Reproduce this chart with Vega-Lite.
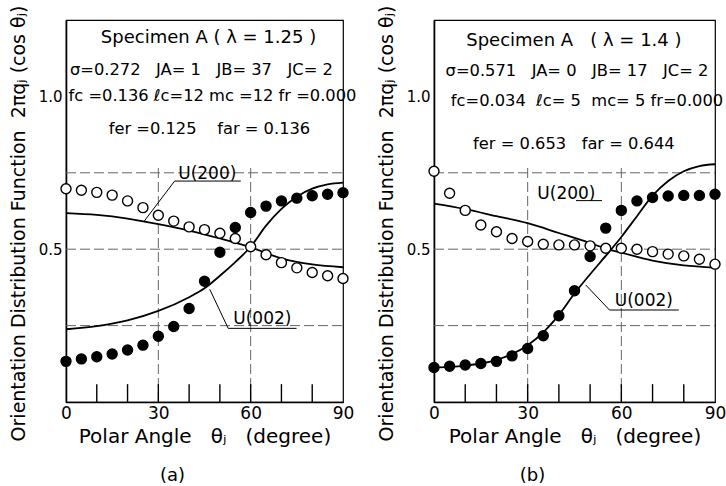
{
  "$schema": "https://vega.github.io/schema/vega-lite/v6.json",
  "background": "white",
  "padding": {"left": 8, "top": 4, "right": 0, "bottom": 0},
  "spacing": 18,
  "datasets": {
    "gridlines": [
      {"x": 0, "x2": 90, "y": 0.25, "y2": 0.25},
      {"x": 0, "x2": 90, "y": 0.5, "y2": 0.5},
      {"x": 0, "x2": 90, "y": 0.75, "y2": 0.75},
      {"x": 30, "x2": 30, "y": 0, "y2": 0.77},
      {"x": 60, "x2": 60, "y": 0, "y2": 0.77}
    ],
    "minor": [
      {"x": 10, "y": 0.029}, {"x": 20, "y": 0.029}, {"x": 30, "y": 0.029}, {"x": 40, "y": 0.029},
      {"x": 50, "y": 0.029}, {"x": 60, "y": 0.029}, {"x": 70, "y": 0.029}, {"x": 80, "y": 0.029}
    ],
    "a_leaders": [
      {"x": 35.3, "x2": 56.8, "y": 0.723, "y2": 0.723},
      {"x": 35.3, "x2": 25.2, "y": 0.723, "y2": 0.589},
      {"x": 52.7, "x2": 74.9, "y": 0.241, "y2": 0.241},
      {"x": 52.7, "x2": 46.7, "y": 0.241, "y2": 0.369}
    ],
    "b_leaders": [
      {"x": 45.5, "x2": 53.8, "y": 0.659, "y2": 0.659},
      {"x": 56.2, "x2": 78.4, "y": 0.301, "y2": 0.301},
      {"x": 56.2, "x2": 48.6, "y": 0.301, "y2": 0.383}
    ],
    "a_fit": [
      {"s": "U(200)", "x": 0, "y": 0.618}, {"s": "U(200)", "x": 10, "y": 0.612},
      {"s": "U(200)", "x": 20, "y": 0.6}, {"s": "U(200)", "x": 30, "y": 0.582},
      {"s": "U(200)", "x": 40, "y": 0.561}, {"s": "U(200)", "x": 50, "y": 0.535},
      {"s": "U(200)", "x": 60, "y": 0.506}, {"s": "U(200)", "x": 70, "y": 0.47},
      {"s": "U(200)", "x": 80, "y": 0.45}, {"s": "U(200)", "x": 90, "y": 0.441},
      {"s": "U(002)", "x": 0, "y": 0.238}, {"s": "U(002)", "x": 10, "y": 0.248},
      {"s": "U(002)", "x": 20, "y": 0.267}, {"s": "U(002)", "x": 30, "y": 0.298},
      {"s": "U(002)", "x": 40, "y": 0.343}, {"s": "U(002)", "x": 45, "y": 0.372},
      {"s": "U(002)", "x": 50, "y": 0.413}, {"s": "U(002)", "x": 55, "y": 0.458},
      {"s": "U(002)", "x": 60, "y": 0.508}, {"s": "U(002)", "x": 65, "y": 0.577},
      {"s": "U(002)", "x": 70, "y": 0.632}, {"s": "U(002)", "x": 75, "y": 0.672},
      {"s": "U(002)", "x": 80, "y": 0.698}, {"s": "U(002)", "x": 85, "y": 0.712},
      {"s": "U(002)", "x": 90, "y": 0.718}
    ],
    "b_fit": [
      {"s": "U(200)", "x": 0, "y": 0.649}, {"s": "U(200)", "x": 10, "y": 0.631},
      {"s": "U(200)", "x": 20, "y": 0.608}, {"s": "U(200)", "x": 30, "y": 0.585},
      {"s": "U(200)", "x": 40, "y": 0.553}, {"s": "U(200)", "x": 50, "y": 0.52},
      {"s": "U(200)", "x": 55, "y": 0.502}, {"s": "U(200)", "x": 60, "y": 0.489},
      {"s": "U(200)", "x": 70, "y": 0.463}, {"s": "U(200)", "x": 80, "y": 0.447},
      {"s": "U(200)", "x": 90, "y": 0.44},
      {"s": "U(002)", "x": 0, "y": 0.113}, {"s": "U(002)", "x": 5, "y": 0.115},
      {"s": "U(002)", "x": 10, "y": 0.119}, {"s": "U(002)", "x": 15, "y": 0.126},
      {"s": "U(002)", "x": 20, "y": 0.138}, {"s": "U(002)", "x": 25, "y": 0.157},
      {"s": "U(002)", "x": 30, "y": 0.186}, {"s": "U(002)", "x": 35, "y": 0.228},
      {"s": "U(002)", "x": 40, "y": 0.285}, {"s": "U(002)", "x": 45, "y": 0.355},
      {"s": "U(002)", "x": 50, "y": 0.418}, {"s": "U(002)", "x": 55, "y": 0.478},
      {"s": "U(002)", "x": 60, "y": 0.54}, {"s": "U(002)", "x": 65, "y": 0.608},
      {"s": "U(002)", "x": 70, "y": 0.675}, {"s": "U(002)", "x": 75, "y": 0.723},
      {"s": "U(002)", "x": 80, "y": 0.755}, {"s": "U(002)", "x": 85, "y": 0.772},
      {"s": "U(002)", "x": 90, "y": 0.778}
    ],
    "a_pts": [
      {"s": "U(200)", "x": 0, "y": 0.698}, {"s": "U(200)", "x": 5, "y": 0.693},
      {"s": "U(200)", "x": 10, "y": 0.686}, {"s": "U(200)", "x": 15, "y": 0.677},
      {"s": "U(200)", "x": 20, "y": 0.658}, {"s": "U(200)", "x": 25, "y": 0.636},
      {"s": "U(200)", "x": 30, "y": 0.611}, {"s": "U(200)", "x": 35, "y": 0.592},
      {"s": "U(200)", "x": 40, "y": 0.573}, {"s": "U(200)", "x": 45, "y": 0.564},
      {"s": "U(200)", "x": 50, "y": 0.552}, {"s": "U(200)", "x": 55, "y": 0.535},
      {"s": "U(200)", "x": 60, "y": 0.508}, {"s": "U(200)", "x": 65, "y": 0.482},
      {"s": "U(200)", "x": 70, "y": 0.456}, {"s": "U(200)", "x": 75, "y": 0.439},
      {"s": "U(200)", "x": 80, "y": 0.424}, {"s": "U(200)", "x": 85, "y": 0.413},
      {"s": "U(200)", "x": 90, "y": 0.404},
      {"s": "U(002)", "x": 0, "y": 0.133}, {"s": "U(002)", "x": 5, "y": 0.141},
      {"s": "U(002)", "x": 10, "y": 0.148}, {"s": "U(002)", "x": 15, "y": 0.157},
      {"s": "U(002)", "x": 20, "y": 0.17}, {"s": "U(002)", "x": 25, "y": 0.186},
      {"s": "U(002)", "x": 30, "y": 0.215}, {"s": "U(002)", "x": 35, "y": 0.247},
      {"s": "U(002)", "x": 40, "y": 0.306}, {"s": "U(002)", "x": 45, "y": 0.395},
      {"s": "U(002)", "x": 50, "y": 0.49}, {"s": "U(002)", "x": 55, "y": 0.571},
      {"s": "U(002)", "x": 60, "y": 0.62}, {"s": "U(002)", "x": 65, "y": 0.641},
      {"s": "U(002)", "x": 70, "y": 0.658}, {"s": "U(002)", "x": 75, "y": 0.667},
      {"s": "U(002)", "x": 80, "y": 0.675}, {"s": "U(002)", "x": 85, "y": 0.68},
      {"s": "U(002)", "x": 90, "y": 0.685}
    ],
    "b_pts": [
      {"s": "U(200)", "x": 0, "y": 0.755}, {"s": "U(200)", "x": 5, "y": 0.683},
      {"s": "U(200)", "x": 10, "y": 0.627}, {"s": "U(200)", "x": 15, "y": 0.579},
      {"s": "U(200)", "x": 20, "y": 0.557}, {"s": "U(200)", "x": 25, "y": 0.535},
      {"s": "U(200)", "x": 30, "y": 0.525}, {"s": "U(200)", "x": 35, "y": 0.516},
      {"s": "U(200)", "x": 40, "y": 0.514}, {"s": "U(200)", "x": 45, "y": 0.514},
      {"s": "U(200)", "x": 50, "y": 0.511}, {"s": "U(200)", "x": 55, "y": 0.503},
      {"s": "U(200)", "x": 60, "y": 0.503}, {"s": "U(200)", "x": 65, "y": 0.5},
      {"s": "U(200)", "x": 70, "y": 0.492}, {"s": "U(200)", "x": 75, "y": 0.484},
      {"s": "U(200)", "x": 80, "y": 0.478}, {"s": "U(200)", "x": 85, "y": 0.467},
      {"s": "U(200)", "x": 90, "y": 0.451},
      {"s": "U(002)", "x": 0, "y": 0.113}, {"s": "U(002)", "x": 5, "y": 0.117},
      {"s": "U(002)", "x": 10, "y": 0.121}, {"s": "U(002)", "x": 15, "y": 0.126},
      {"s": "U(002)", "x": 20, "y": 0.133}, {"s": "U(002)", "x": 25, "y": 0.151},
      {"s": "U(002)", "x": 30, "y": 0.175}, {"s": "U(002)", "x": 35, "y": 0.217},
      {"s": "U(002)", "x": 40, "y": 0.282}, {"s": "U(002)", "x": 45, "y": 0.364},
      {"s": "U(002)", "x": 50, "y": 0.476}, {"s": "U(002)", "x": 55, "y": 0.569},
      {"s": "U(002)", "x": 60, "y": 0.627}, {"s": "U(002)", "x": 65, "y": 0.658},
      {"s": "U(002)", "x": 70, "y": 0.669}, {"s": "U(002)", "x": 75, "y": 0.674},
      {"s": "U(002)", "x": 80, "y": 0.676}, {"s": "U(002)", "x": 85, "y": 0.676},
      {"s": "U(002)", "x": 90, "y": 0.68}
    ],
    "a_head": [
      {"x": 46.3, "y": 1.19, "t": "Specimen A ( λ = 1.25 )"}
    ],
    "a_params": [
      {"x": 44.0, "y": 1.088, "t": "σ=0.272\u00a0\u00a0 JA= 1\u00a0\u00a0 JB= 37\u00a0\u00a0 JC= 2"},
      {"x": 47.6, "y": 1.0, "t": "fc =0.136 ℓc=12 mc =12 fr =0.000"},
      {"x": 46.6, "y": 0.892, "t": "fer =0.125\u00a0\u00a0\u00a0 far = 0.136"}
    ],
    "a_labels": [
      {"x": 45.9, "y": 0.746, "t": "U(200)"},
      {"x": 63.8, "y": 0.271, "t": "U(002)"}
    ],
    "b_head": [
      {"x": 44.8, "y": 1.18, "t": "Specimen A\u00a0\u00a0 ( λ = 1.4 )"}
    ],
    "b_params": [
      {"x": 45.8, "y": 1.082, "t": "σ=0.571\u00a0\u00a0 JA= 0\u00a0\u00a0 JB= 17\u00a0\u00a0 JC= 2"},
      {"x": 49.0, "y": 0.984, "t": "fc=0.034\u00a0 ℓc= 5\u00a0 mc= 5 fr=0.000"},
      {"x": 44.8, "y": 0.843, "t": "fer = 0.653\u00a0\u00a0 far = 0.644"}
    ],
    "b_labels": [
      {"x": 42.4, "y": 0.68, "t": "U(200)"},
      {"x": 67.2, "y": 0.33, "t": "U(002)"}
    ]
  },
  "hconcat": [
    {
      "width": 277,
      "height": 382,
      "title": {"text": "(a)", "orient": "bottom", "anchor": "middle", "offset": 21, "dx": -32, "fontSize": 18, "fontWeight": "normal", "color": "black"},
      "encoding": {
        "x": {"field": "x", "type": "quantitative", "scale": {"domain": [0, 90], "nice": false},
          "axis": {"values": [0, 30, 60, 90], "labelOverlap": false, "labelFlush": false, "ticks": false, "labelFontSize": 17, "labelPadding": 3, "title": "Polar Angle\u00a0\u00a0 θⱼ\u00a0\u00a0 (degree)", "titleFontSize": 20, "titlePadding": 5}},
        "y": {"field": "y", "type": "quantitative", "scale": {"domain": [0, 1.25], "nice": false},
          "axis": {"values": [0.5, 1.0], "format": ".1f", "ticks": false, "labelFontSize": 15, "labelPadding": 4, "title": "Orientation Distribution Function\u00a0 2πqⱼ (cos θⱼ)", "titleFontSize": 19, "titlePadding": 10, "titleY": 203}}
      },
      "layer": [
        {"data": {"name": "gridlines"}, "mark": {"type": "rule", "color": "#666666", "strokeWidth": 1, "strokeDash": [10, 4]}, "encoding": {"x2": {"field": "x2"}, "y2": {"field": "y2"}}},
        {"data": {"name": "minor"}, "mark": {"type": "tick", "orient": "vertical", "color": "black", "size": 18, "thickness": 1.4, "opacity": 1}, "encoding": {}},
        {"data": {"name": "a_leaders"}, "mark": {"type": "rule", "color": "black", "strokeWidth": 1}, "encoding": {"x2": {"field": "x2"}, "y2": {"field": "y2"}}},
        {"data": {"name": "a_fit"}, "mark": {"type": "line", "color": "black", "strokeWidth": 1.8, "interpolate": "monotone"}, "encoding": {"detail": {"field": "s", "type": "nominal"}}},
        {"data": {"name": "a_pts"}, "mark": {"type": "point", "shape": "circle", "filled": true, "size": 100, "stroke": "black", "strokeWidth": 1.4, "opacity": 1},
          "encoding": {"fill": {"field": "s", "type": "nominal", "scale": {"domain": ["U(200)", "U(002)"], "range": ["white", "black"]}, "legend": null}}},
        {"data": {"name": "a_head"}, "mark": {"type": "text", "fontSize": 18, "align": "center", "baseline": "middle", "color": "black"}, "encoding": {"text": {"field": "t"}}},
        {"data": {"name": "a_params"}, "mark": {"type": "text", "fontSize": 16.3, "align": "center", "baseline": "middle", "color": "black"}, "encoding": {"text": {"field": "t"}}},
        {"data": {"name": "a_labels"}, "mark": {"type": "text", "fontSize": 17, "align": "center", "baseline": "middle", "color": "black"}, "encoding": {"text": {"field": "t"}}}
      ]
    },
    {
      "width": 281,
      "height": 382,
      "title": {"text": "(b)", "orient": "bottom", "anchor": "middle", "offset": 21, "dx": -42, "fontSize": 18, "fontWeight": "normal", "color": "black"},
      "encoding": {
        "x": {"field": "x", "type": "quantitative", "scale": {"domain": [0, 90], "nice": false},
          "axis": {"values": [0, 30, 60, 90], "labelOverlap": false, "labelFlush": false, "ticks": false, "labelFontSize": 17, "labelPadding": 3, "title": "Polar Angle\u00a0\u00a0 θⱼ\u00a0\u00a0 (degree)", "titleFontSize": 20, "titlePadding": 5}},
        "y": {"field": "y", "type": "quantitative", "scale": {"domain": [0, 1.25], "nice": false},
          "axis": {"values": [0.5, 1.0], "format": ".1f", "ticks": false, "labelFontSize": 15, "labelPadding": 4, "title": "Orientation Distribution Function\u00a0 2πqⱼ (cos θⱼ)", "titleFontSize": 19, "titlePadding": 10, "titleY": 203}}
      },
      "layer": [
        {"data": {"name": "gridlines"}, "mark": {"type": "rule", "color": "#666666", "strokeWidth": 1, "strokeDash": [10, 4]}, "encoding": {"x2": {"field": "x2"}, "y2": {"field": "y2"}}},
        {"data": {"name": "minor"}, "mark": {"type": "tick", "orient": "vertical", "color": "black", "size": 18, "thickness": 1.4, "opacity": 1}, "encoding": {}},
        {"data": {"name": "b_leaders"}, "mark": {"type": "rule", "color": "black", "strokeWidth": 1}, "encoding": {"x2": {"field": "x2"}, "y2": {"field": "y2"}}},
        {"data": {"name": "b_fit"}, "mark": {"type": "line", "color": "black", "strokeWidth": 1.8, "interpolate": "monotone"}, "encoding": {"detail": {"field": "s", "type": "nominal"}}},
        {"data": {"name": "b_pts"}, "mark": {"type": "point", "shape": "circle", "filled": true, "size": 100, "stroke": "black", "strokeWidth": 1.4, "opacity": 1},
          "encoding": {"fill": {"field": "s", "type": "nominal", "scale": {"domain": ["U(200)", "U(002)"], "range": ["white", "black"]}, "legend": null}}},
        {"data": {"name": "b_head"}, "mark": {"type": "text", "fontSize": 18, "align": "center", "baseline": "middle", "color": "black"}, "encoding": {"text": {"field": "t"}}},
        {"data": {"name": "b_params"}, "mark": {"type": "text", "fontSize": 16.3, "align": "center", "baseline": "middle", "color": "black"}, "encoding": {"text": {"field": "t"}}},
        {"data": {"name": "b_labels"}, "mark": {"type": "text", "fontSize": 17, "align": "center", "baseline": "middle", "color": "black"}, "encoding": {"text": {"field": "t"}}}
      ]
    }
  ],
  "config": {
    "font": "DejaVu Sans",
    "view": {"stroke": "black", "strokeWidth": 1.2},
    "axis": {"domainColor": "black", "domainWidth": 1.6, "labelColor": "black", "titleColor": "black", "titleFontWeight": "normal", "grid": false, "labelFont": "DejaVu Sans", "titleFont": "DejaVu Sans"},
    "title": {"font": "DejaVu Sans"}
  }
}
